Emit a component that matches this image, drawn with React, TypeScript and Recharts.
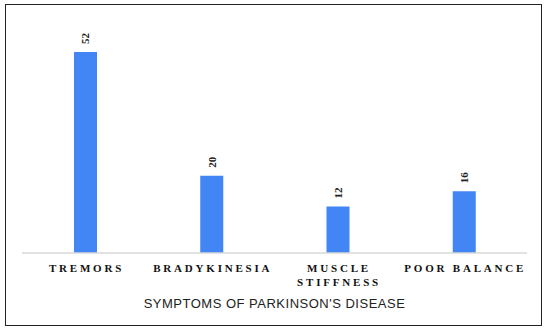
import React from 'react';
import { BarChart, Bar, XAxis, YAxis, LabelList } from 'recharts';

const symptoms = ['TREMORS', 'BRADYKINESIA', 'MUSCLE\nSTIFFNESS', 'POOR BALANCE'];
const patientCounts = [52, 20, 12, 16];

const data = symptoms.map((name, i) => ({ name, value: patientCounts[i] }));

const SymptomTick = (props: any) => {
  const { x, y, payload } = props;
  const lines = String(payload.value).split('\n');
  return (
    <text
      x={x}
      y={y}
      textAnchor="middle"
      fill="#111"
      fontFamily="'Liberation Serif', 'Times New Roman', serif"
      fontWeight="bold"
      fontSize={11}
      letterSpacing={2.8}
    >
      {lines.map((line, i) => (
        <tspan key={i} x={x + 1.4} dy={i === 0 ? 11 : 14}>
          {line}
        </tspan>
      ))}
    </text>
  );
};

const ValueLabel = (props: any) => {
  const { x, y, width, value } = props;
  const cx = x + width / 2;
  const ty = y - 8;
  return (
    <text
      x={cx}
      y={ty}
      transform={`rotate(-90, ${cx}, ${ty})`}
      textAnchor="start"
      dominantBaseline="central"
      fill="#222"
      fontFamily="'Liberation Serif', 'Times New Roman', serif"
      fontWeight="bold"
      fontSize={11}
    >
      {value}
    </text>
  );
};

export default function App() {
  return (
    <div style={{ position: 'absolute', left: 0, top: 0, width: 550, height: 332, background: '#fff' }}>
      <div
        style={{
          position: 'absolute',
          left: 5,
          top: 4,
          width: 535,
          height: 320,
          border: '1.5px solid #222',
        }}
      />
      <BarChart
        width={550}
        height={332}
        data={data}
        margin={{ top: 21, right: 23, left: 22, bottom: 0 }}
      >
        <XAxis
          dataKey="name"
          height={79}
          axisLine={{ stroke: '#d9d9d9', strokeWidth: 1.5 }}
          tickLine={false}
          interval={0}
          tick={<SymptomTick />}
          label={{
            value: "SYMPTOMS OF PARKINSON'S DISEASE",
            position: 'insideBottom',
            offset: 24,
            fill: '#222',
            fontSize: 13,
            letterSpacing: 0.5,
            fontFamily: "'Liberation Sans', Arial, sans-serif",
          }}
        />
        <YAxis hide domain={[0, 60]} />
        <Bar dataKey="value" fill="#4285f4" barSize={23} isAnimationActive={false}>
          <LabelList dataKey="value" content={<ValueLabel />} />
        </Bar>
      </BarChart>
    </div>
  );
}
